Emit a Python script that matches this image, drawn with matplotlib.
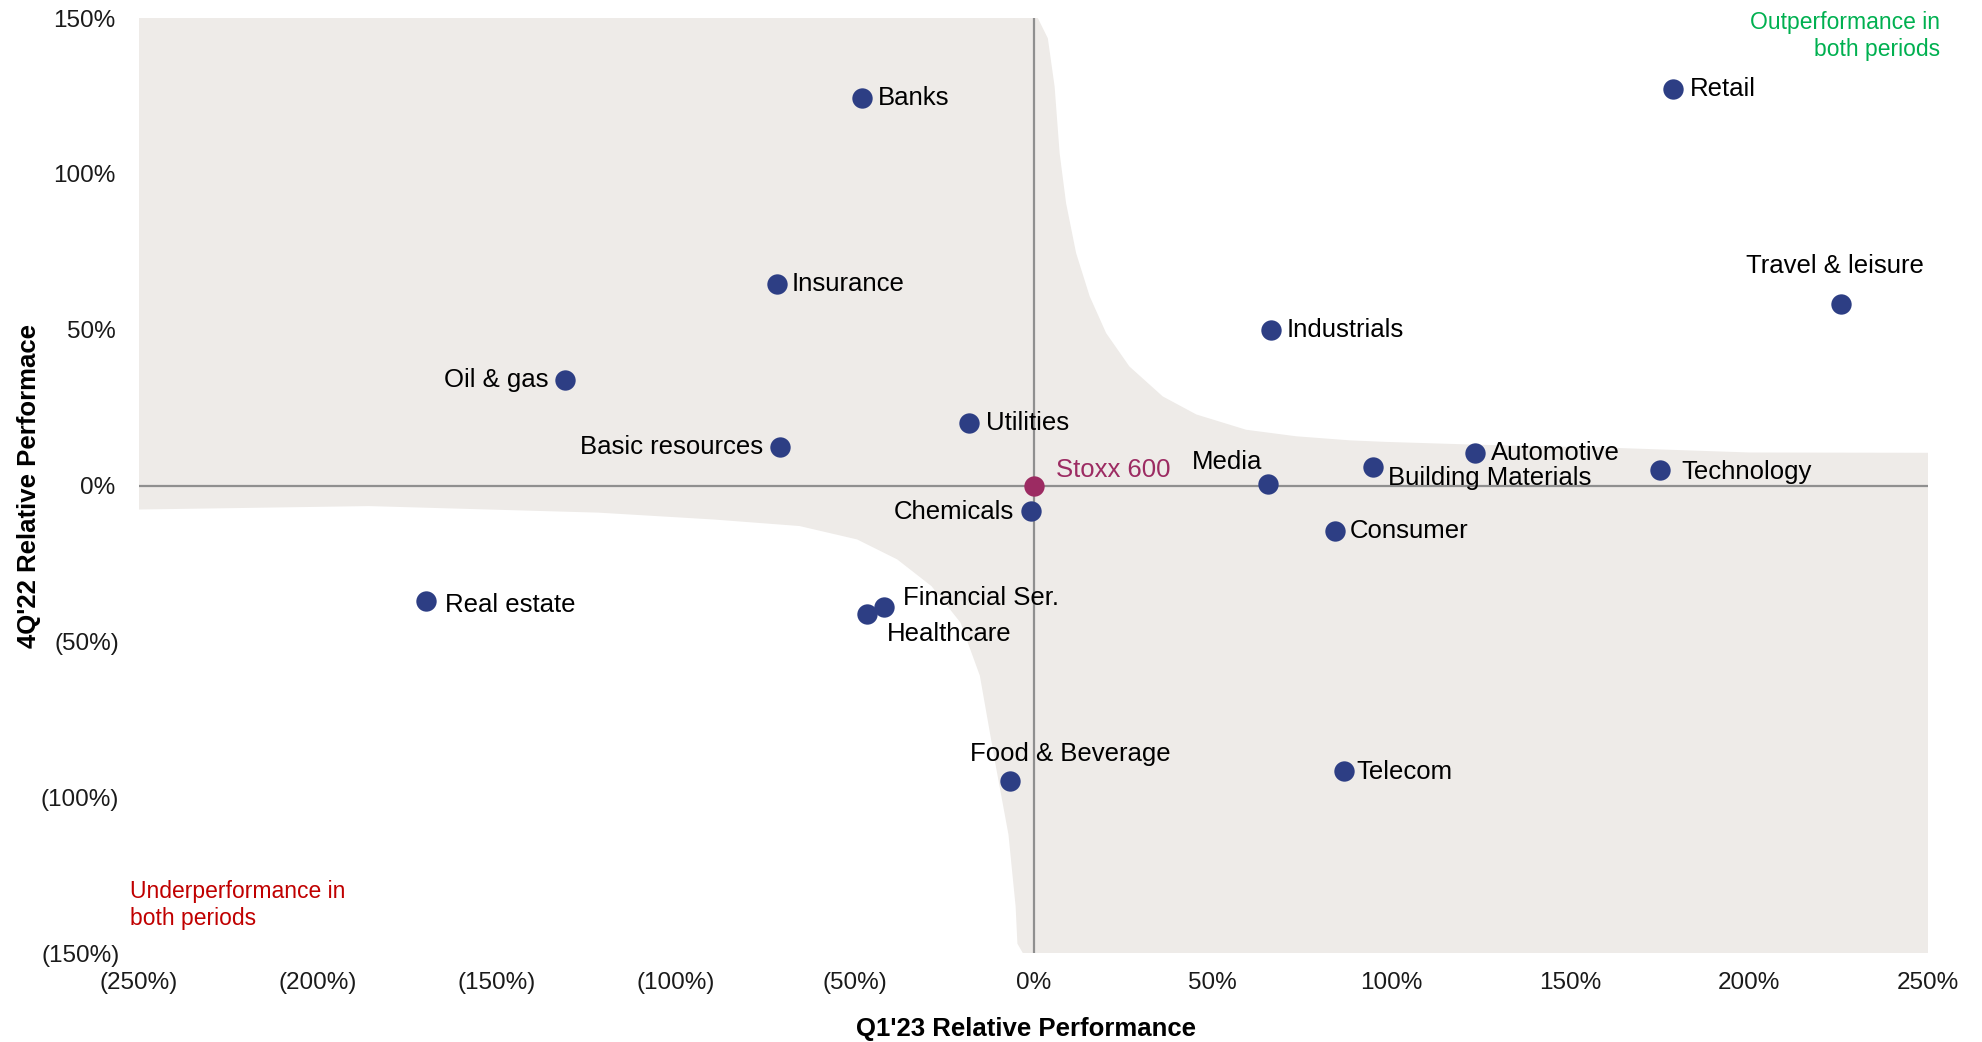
import matplotlib.pyplot as plt
from matplotlib.transforms import ScaledTranslation

plt.rcParams['font.family'] = ['Liberation Sans', 'DejaVu Sans']

# sector relative performance (%)
sectors = ['Banks', 'Retail', 'Insurance', 'Travel & leisure', 'Industrials',
           'Oil & gas', 'Utilities', 'Basic resources', 'Automotive',
           'Building Materials', 'Technology', 'Media', 'Chemicals', 'Consumer',
           'Real estate', 'Financial Ser.', 'Healthcare', 'Food & Beverage', 'Telecom']
q1_23 = [-47.8, 178.7, -71.8, 225.8, 66.5, -130.9, -18.0, -70.8, 123.5,
         94.8, 175.2, 65.5, -0.7, 84.2, -169.9, -41.8, -46.4, -6.7, 86.7]
q4_22 = [124.4, 127.3, 64.5, 58.4, 49.9, 34.0, 19.9, 12.2, 10.5,
         6.1, 4.9, 0.4, -8.1, -14.6, -36.9, -38.9, -41.3, -94.9, -91.6]

index_name = 'Stoxx 600'
index_x = [0.0]
index_y = [0.0]

# outline of the shaded background zone
upper_x = [1.2, 4.0, 5.9, 7.3, 9.1, 11.9, 15.7, 20.3, 26.8, 36.1, 45.5, 59.4,
           73.4, 88.3, 98.4, 123.8, 161.8, 200.0, 250.0]
upper_y = [150, 143.5, 128, 106.6, 90.6, 74.6, 60.7, 48.9, 38.2, 28.6, 22.8, 17.9,
           15.8, 14.5, 14.0, 13.1, 12.1, 10.6, 10.5]
lower_x = [-3.0, -4.5, -5.0, -7.0, -10.7, -15.0, -20.4, -28.5, -38.1, -49.3,
           -65.4, -89.4, -121.6, -185.7, -250.0]
lower_y = [-150, -147, -135, -112, -89, -61, -44, -32.3, -23.7, -17.3,
           -13, -10.9, -8.7, -6.6, -7.7]

xticks = [-250, -200, -150, -100, -50, 0, 50, 100, 150, 200, 250]
yticks = [-150, -100, -50, 0, 50, 100, 150]

# label placement: offset in points and horizontal alignment
label_pos = {
    'Banks': (11, 0, 'left'), 'Retail': (12, 0, 'left'),
    'Insurance': (11, 0, 'left'), 'Travel & leisure': (-5, 27, 'center'),
    'Industrials': (11, 0, 'left'), 'Oil & gas': (-12, 0, 'right'),
    'Utilities': (12, 0, 'left'), 'Basic resources': (-12, 0, 'right'),
    'Automotive': (11, 0, 'left'), 'Building Materials': (11, -8, 'left'),
    'Technology': (15, -1, 'left'), 'Media': (-4, 16, 'right'),
    'Chemicals': (-12, -1, 'right'), 'Consumer': (11, 0, 'left'),
    'Real estate': (14, -3, 'left'), 'Financial Ser.': (14, 6, 'left'),
    'Healthcare': (14, -14, 'left'), 'Food & Beverage': (44, 20, 'center'),
    'Telecom': (9, -1, 'left'),
}

navy = '#2D3E84'
crimson = '#9C2B62'
shade = '#EEEBE8'
grey = '#8F8F8F'


def pct(v):
    return '0%' if v == 0 else ('(%d%%)' % abs(v) if v < 0 else '%d%%' % v)


fig = plt.figure(figsize=(19.82, 10.42), dpi=100)
ax = fig.add_axes([0.0701, 0.0854, 0.9027, 0.8973])

poly_x = [-250] + upper_x + [250] + lower_x
poly_y = [150] + upper_y + [-150] + lower_y
ax.fill(poly_x, poly_y, color=shade, lw=0, zorder=0)

ax.axhline(0, color=grey, lw=1.6, zorder=1)
ax.axvline(0, color=grey, lw=1.6, zorder=1)

ax.scatter(q1_23, q4_22, s=215, color=navy, zorder=3, linewidths=0)
ax.scatter(index_x, index_y, s=215, color=crimson, zorder=3, linewidths=0)

for name, x, y in zip(sectors, q1_23, q4_22):
    dx, dy, ha = label_pos[name]
    ax.annotate(name, (x, y), xytext=(dx, dy), textcoords='offset points',
                ha=ha, va='center', fontsize=18.5, color='black', zorder=4)
ax.annotate(index_name, (index_x[0], index_y[0]), xytext=(16, 11),
            textcoords='offset points', ha='left', va='center',
            fontsize=18.5, color=crimson, zorder=4)

ax.set_xlim(-250, 250)
ax.set_ylim(-150, 150)
ax.set_xticks(xticks)
ax.set_xticklabels([pct(v) for v in xticks])
ax.set_yticks(yticks)
ax.set_yticklabels([pct(v) for v in yticks])
ax.tick_params(length=0, labelsize=17.5, labelcolor='#1a1a1a')
ax.tick_params(axis='x', pad=14)
ax.tick_params(axis='y', pad=17)
for lab in ax.get_yticklabels():
    if lab.get_text().startswith('('):
        lab.set_transform(lab.get_transform() + ScaledTranslation(4 / 100, 0, fig.dpi_scale_trans))
for sp in ax.spines.values():
    sp.set_visible(False)

fig.text(1026 / 1982, 1 - 1029 / 1042, "Q1'23 Relative Performance", ha='center', va='center',
         fontsize=18.5, fontweight='bold')
fig.text(29 / 1982, 1 - 486 / 1042, "4Q'22 Relative Performace", ha='center', va='center',
         rotation=90, fontsize=18.5, fontweight='bold')

fig.text(1940 / 1982, 1 - 11 / 1042, 'Outperformance in\nboth periods', ha='right', va='top',
         fontsize=16.5, color='#00B050', linespacing=1.2)
fig.text(130 / 1982, 1 - 880 / 1042, 'Underperformance in\nboth periods', ha='left', va='top',
         fontsize=16.5, color='#C00000', linespacing=1.2)

fig.savefig('out.png', dpi=100)
